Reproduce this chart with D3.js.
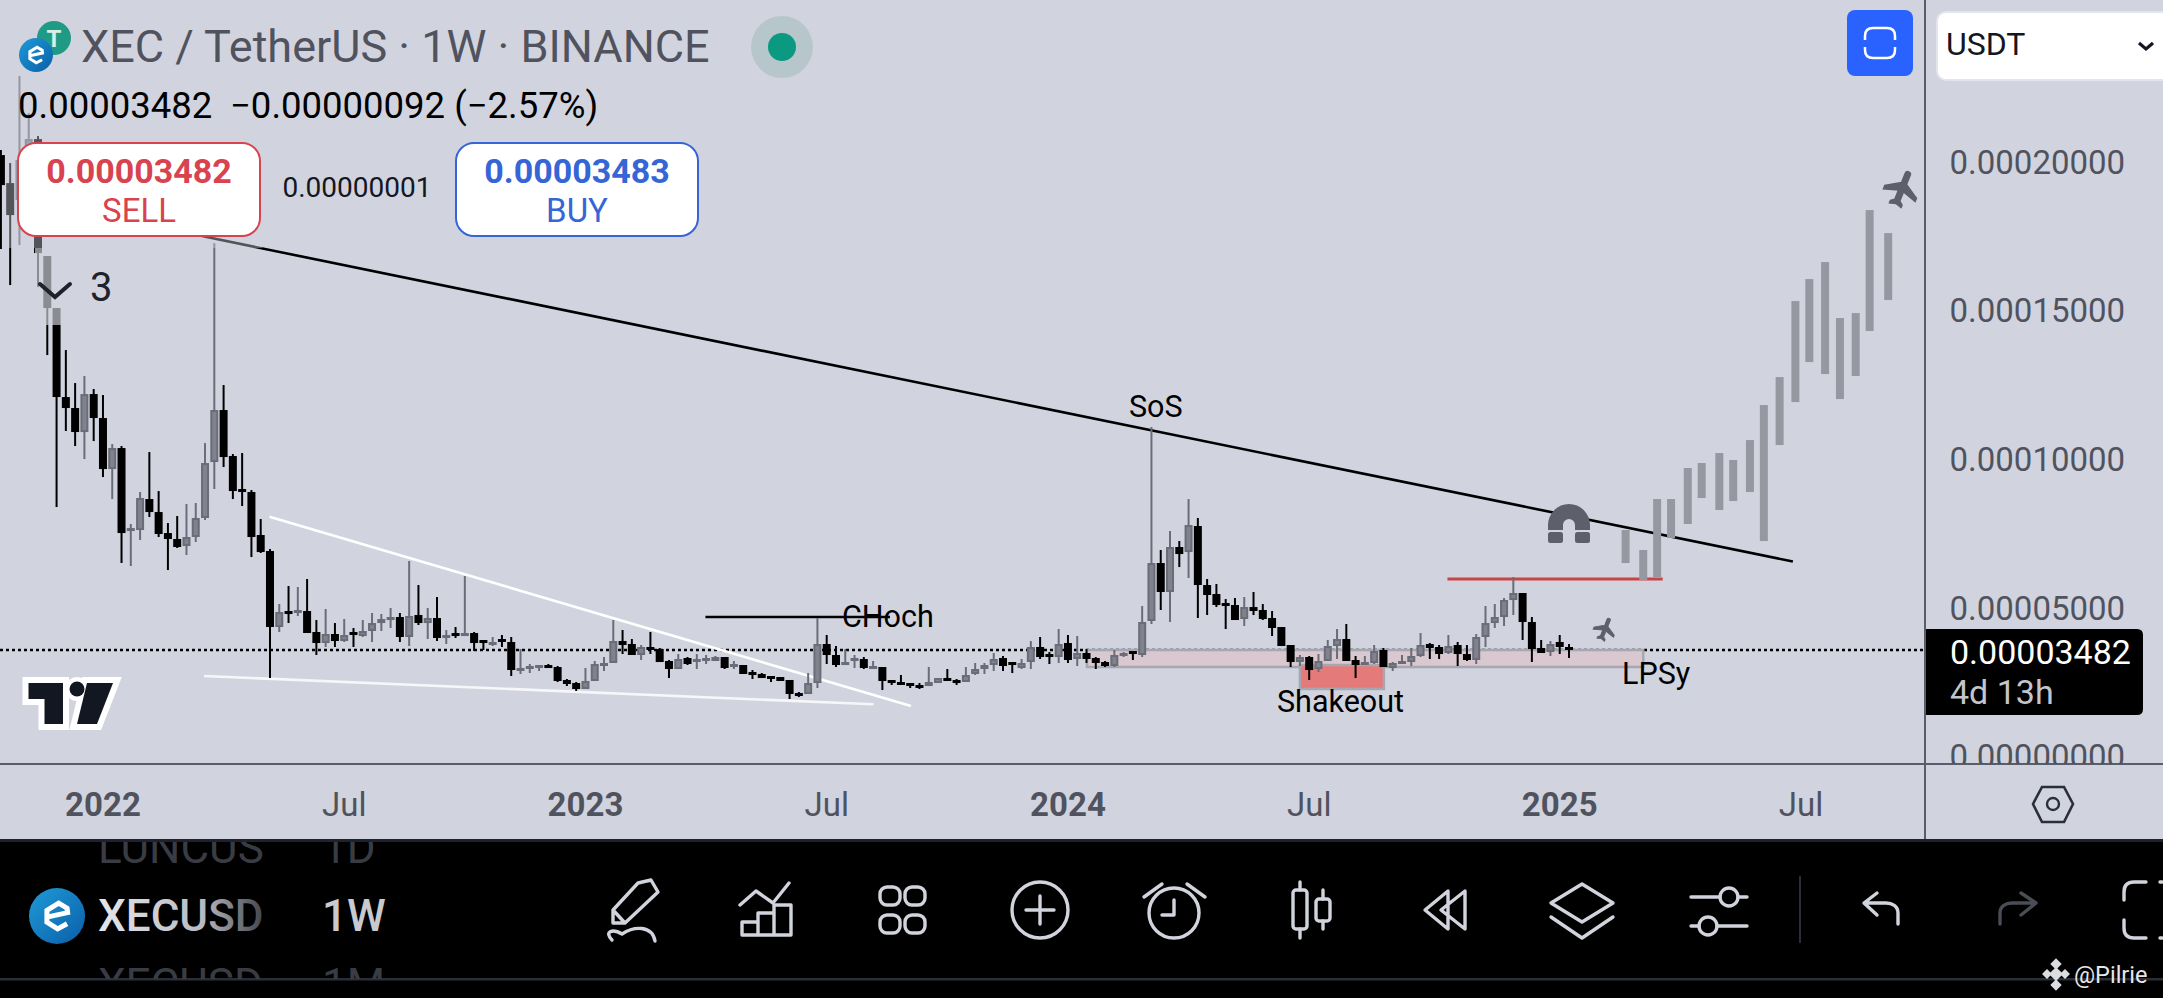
<!DOCTYPE html>
<html>
<head>
<meta charset="utf-8">
<title>XEC / TetherUS</title>
<script src="https://cdn.jsdelivr.net/npm/d3@7"></script>
<style>
    html, body { margin: 0; padding: 0; background: #000; }
    svg { display: block; font-family: Roboto, sans-serif; }
</style>
</head>
<body>
<div id="chart"></div>
<script>
// Weekly candles, prices in units of 0.00000001 USDT
const FIRST_WEEK = new Date(Date.UTC(2021, 9, 18));

const OPEN = [20206,19264,18693,19533,20744,16810,15062,12070,11700,10893,12170,11364,9649,10355,7598,7598,8640,8203,7497,7296,7060,7363,8002,9884,11633,10086,8977,8876,7430,6892,
    4337,4875,4841,4875,4169,3799,4102,3866,4169,4034,4203,4471,4606,4673,4001,4740,4471,4640,4001,4135,4068,4135,3900,3732,3934,3833,2891,2959,2992,3059,
    2992,2555,2454,2253,2522,3059,3127,3866,3765,3396,3665,3597,3194,2925,3295,3194,3228,3194,3328,3026,3059,2824,2757,2690,2656,2555,2118,2084,2454,3765,
    3396,3093,3228,3261,2959,2992,2555,2488,2454,2387,2353,2454,2622,2555,2488,2757,2925,3059,3295,3160,2959,3160,3665,3429,3328,3799,3261,3463,3295,3160,
    3026,3396,3530,3396,4539,6489,5514,7027,6858,7733,5749,5446,5144,5077,4606,5009,4909,4640,4337,3732,3160,3328,2925,3194,3698,3934,3228,3093,3127,3564,
    2959,3127,3160,3362,3765,3665,3463,3732,3429,3228,4001,4471,4673,5245,5480,4505,3631,3496,3833,3665];
const HIGH = [20374,19937,22862,21618,20844,16810,15062,13650,12540,12776,12339,12137,10489,10422,7800,8876,10220,8909,7833,8069,8472,8506,10523,17247,12473,10153,10187,8943,7968,6959,
    5110,5715,5682,5951,4572,4942,4471,4606,4303,4572,4808,4774,4976,4808,6556,5749,4976,5346,4236,4337,6052,4169,3900,4001,4068,4001,3597,3093,3059,3093,
    3026,2589,2488,2959,3194,3328,4572,4236,3934,3732,4169,3631,3228,3429,3328,3429,3396,3362,3328,3194,3059,2891,2790,2690,2656,2555,2152,2790,4640,4068,
    3698,3597,3396,3328,3194,2992,2555,2723,2454,2454,2992,2622,2925,2589,2992,3127,3127,3463,3362,3160,3261,3866,4001,3496,4270,4068,4034,3597,3328,3194,
    3564,3496,3530,5043,11061,6926,7565,7228,8640,8002,5951,5783,5278,5312,5346,5514,5110,4875,4337,3732,3396,3362,3429,3900,4270,4438,3362,3362,3732,3631,
    3160,3396,3631,4135,3799,3732,4068,3833,3732,4102,5043,5110,5312,6018,5480,4673,3900,3866,4068,3765];
const LOW = [17045,15835,17180,18693,15768,13482,8371,10927,10422,9985,10590,9380,8640,6489,6388,7262,8035,7363,6253,6993,6758,7195,7934,8977,9716,8640,8405,6690,6825,2622,
    4169,4471,4707,4135,3396,3665,3665,3833,3665,4001,3833,4203,4303,3833,3698,4404,3934,3866,3765,3967,4034,3530,3564,3698,3665,2690,2757,2790,2858,2959,
    2488,2353,2185,2253,2522,2858,3127,3429,3396,3228,3429,3160,2622,2925,3059,2925,3093,3194,2925,2925,2757,2589,2622,2488,2522,1916,1984,2084,2286,3093,
    2992,3093,2959,2925,2925,2219,2387,2387,2286,2253,2353,2454,2522,2387,2488,2723,2757,2858,2858,2790,2925,2925,3261,3093,3127,3127,3026,3127,2925,2992,
    2992,3328,3228,3328,4438,4909,4505,6354,5984,4640,4740,5009,4270,4572,4371,4740,4572,4034,3698,2992,3026,2555,2824,3194,3261,3194,2622,3059,3093,2992,
    2858,3127,3026,3328,3261,3261,3429,3026,3194,3093,3665,4303,4371,4740,3900,3160,3463,3362,3429,3295];
const CLOSE = [19197,18188,20038,20744,16911,15062,12070,11700,10893,12170,11364,9649,10355,7497,7665,8674,8203,7464,7296,7027,7363,8002,9851,11633,10052,8909,8909,7363,6858,4337,
    4841,4808,4909,4135,3799,4102,3866,4068,4102,4203,4471,4606,4673,4001,4707,4471,4640,3967,4068,4068,4135,3799,3833,3833,3866,2891,2959,3026,3059,2992,
    2522,2421,2253,2522,3093,3127,3866,3732,3396,3665,3597,3160,2925,3261,3093,3261,3295,3328,2959,3093,2757,2757,2622,2622,2522,2084,2051,2454,3765,3396,
    3059,3160,3295,2959,3026,2522,2488,2421,2387,2320,2488,2622,2522,2488,2723,2925,3059,3261,3026,3093,3127,3665,3328,3362,3765,3228,3463,3261,3127,3026,
    3396,3463,3463,4505,6489,5514,7027,6791,7766,5749,5413,5077,5077,4572,5009,4875,4606,4303,3698,3160,3328,2891,3194,3698,3934,3194,3059,3160,3530,2992,
    3127,3194,3362,3732,3631,3429,3698,3429,3228,4001,4471,4673,5245,5480,4505,3597,3463,3765,3665,3564];

// Projected bars pattern: offset in weeks from FIRST_WEEK, low and high
const FORECAST_WEEK = [175.1,177.0,178.5,180.0,181.8,183.3,185.2,186.7,188.5,190.0,191.7,193.4,194.9,196.6,198.2,199.9,201.4,203.4];
const FORECAST_LOW = [6489,5917,6018,7329,7800,8674,8271,8573,8876,7228,10456,11901,13246,12843,12002,12776,14289,15331];
const FORECAST_HIGH = [7598,6926,8640,8640,9683,9851,10187,9952,10624,11801,12742,15297,16037,16608,14726,14894,18357,17583];

const PRICE_TICKS = [0, 5000, 10000, 15000, 20000];
const LAST_LEVEL = 3564; // where the dotted line sits against the candles
const TIME_TICKS = [[2022, 0, 3, "2022"], [2022, 6, 4, "Jul"], [2023, 0, 2, "2023"], [2023, 6, 3, "Jul"],
    [2024, 0, 1, "2024"], [2024, 6, 1, "Jul"], [2025, 0, 6, "2025"], [2025, 6, 7, "Jul"]];

// Drawings: [week, price] end points
const TREND_LINE = [[21.67, 17482], [193.13, 6539]];
const WEDGE_TOP = [[28.95, 8045], [98.08, 1681]];
const WEDGE_BOTTOM = [[21.89, 2690], [94.04, 1738]];
const CHOCH_LINE = [[75.93, 4673], [95.82, 4673]];
const RESIST_LINE = [[155.9, 5951], [179.1, 5951]];
const SUPPORT_BOX = [[117.05, 3564], [177.0, 2992]];
const SHAKEOUT_BOX = [[140.0, 3059], [149.05, 2253]];

const WIDTH = 2163, HEIGHT = 998;
const PANE_RIGHT = 1925, PANE_BOTTOM = 764;
const BG = "#d1d4de", UP = "#6a6d78", UP_FILL = "#80828d", DOWN = "#000000", TEXT = "#50535e";
const WEEK_MS = 7 * 24 * 3600 * 1000;

const svg = d3.select("#chart").append("svg")
    .attr("width", WIDTH)
    .attr("height", HEIGHT)
    .attr("viewBox", "0 0 " + WIDTH + " " + HEIGHT);

const defs = svg.append("defs");
defs.append("clipPath").attr("id", "pane-clip").append("rect")
    .attr("width", WIDTH).attr("height", PANE_BOTTOM);
defs.append("clipPath").attr("id", "row-clip").append("rect")
    .attr("x", 0).attr("y", 842).attr("width", 420).attr("height", 137);

const fade = defs.append("linearGradient").attr("id", "sym-fade")
    .attr("gradientUnits", "userSpaceOnUse").attr("x1", 98).attr("x2", 272).attr("y1", 0).attr("y2", 0);
fade.append("stop").attr("offset", 0).attr("stop-color", "#e6e7ec");
fade.append("stop").attr("offset", 0.6).attr("stop-color", "#b9bbc2");
fade.append("stop").attr("offset", 1).attr("stop-color", "#33353b");

const blue = defs.append("linearGradient").attr("id", "ecash-blue")
    .attr("x1", 0).attr("x2", 1).attr("y1", 0).attr("y2", 1);
blue.append("stop").attr("offset", 0).attr("stop-color", "#1f9ad6");
blue.append("stop").attr("offset", 1).attr("stop-color", "#0a5fa8");

svg.append("rect").attr("width", WIDTH).attr("height", 842).attr("fill", BG);

const x = d3.scaleUtc()
    .domain([FIRST_WEEK, new Date(FIRST_WEEK.getTime() + 169 * WEEK_MS)])
    .range([0.9, 1569]);
const y = d3.scaleLinear().domain([0, 20000]).range([756, 161.2]);
const xw = w => x(new Date(FIRST_WEEK.getTime() + w * WEEK_MS));

const pane = svg.append("g");

// last price line
pane.append("line")
    .attr("x1", 0).attr("x2", PANE_RIGHT)
    .attr("y1", y(LAST_LEVEL)).attr("y2", y(LAST_LEVEL))
    .attr("stroke", "#000").attr("stroke-width", 2.4).attr("stroke-dasharray", "3 3");

function drawBox(b, fill) {
    pane.append("rect")
        .attr("x", xw(b[0][0])).attr("y", y(b[0][1]))
        .attr("width", xw(b[1][0]) - xw(b[0][0]))
        .attr("height", y(b[1][1]) - y(b[0][1]))
        .attr("fill", fill).attr("stroke", "#a6a7b0").attr("stroke-width", 2.5);
}
function drawSegment(s, color, width) {
    pane.append("line")
        .attr("x1", xw(s[0][0])).attr("y1", y(s[0][1]))
        .attr("x2", xw(s[1][0])).attr("y2", y(s[1][1]))
        .attr("stroke", color).attr("stroke-width", width);
}

drawBox(SUPPORT_BOX, "#d9c8cf");
drawBox(SHAKEOUT_BOX, "#e57a7a");
drawSegment(WEDGE_TOP, "#ffffff", 2.6);
drawSegment(WEDGE_BOTTOM, "#f7f7fa", 2.6);
drawSegment(TREND_LINE, "#000", 2.6);
drawSegment(CHOCH_LINE, "#000", 2.6);
drawSegment(RESIST_LINE, "#eec9cb", 5);
drawSegment(RESIST_LINE, "#bb4a50", 2.8);

// candles
const candles = pane.append("g").selectAll("g")
    .data(OPEN.map((o, i) => ({ i: i, o: o, h: HIGH[i], l: LOW[i], c: CLOSE[i] })))
    .enter().append("g");

candles.append("line")
    .attr("x1", d => xw(d.i)).attr("x2", d => xw(d.i))
    .attr("y1", d => y(d.h)).attr("y2", d => y(d.l))
    .attr("stroke", d => d.c >= d.o ? UP : DOWN)
    .attr("stroke-width", 2);

candles.append("rect")
    .attr("x", d => xw(d.i) - (d.c >= d.o ? 3 : 4))
    .attr("width", d => d.c >= d.o ? 6 : 8)
    .attr("y", d => y(Math.max(d.o, d.c)) + (d.c >= d.o ? 1 : 0))
    .attr("height", d => Math.max(Math.abs(y(d.o) - y(d.c)) - (d.c >= d.o ? 2 : 0), d.c >= d.o ? 1 : 3))
    .attr("fill", d => d.c >= d.o ? UP_FILL : DOWN)
    .attr("stroke", d => d.c >= d.o ? UP : "none")
    .attr("stroke-width", 2);

// projected bars
pane.append("g").selectAll("rect")
    .data(FORECAST_WEEK)
    .enter().append("rect")
    .attr("x", d => xw(d) - 4)
    .attr("width", 8)
    .attr("y", (d, i) => y(FORECAST_HIGH[i]))
    .attr("height", (d, i) => y(FORECAST_LOW[i]) - y(FORECAST_HIGH[i]))
    .attr("fill", "#9598a1");

// labels on the chart
function note(text, px, py) {
    pane.append("text").attr("x", px).attr("y", py).attr("font-size", 30.5).attr("fill", "#000").text(text);
}
note("SoS", 1129, 417);
note("CHoch", 842, 627);
note("Shakeout", 1277, 712);
note("LPSy", 1622, 684);

// magnet
pane.append("path")
    .attr("d", "M1548,530 V525 A21,21 0 0 1 1590,525 V530 H1575 V525 A6,6 0 0 0 1563,525 V530 Z")
    .attr("fill", "#5d606b");
pane.append("rect").attr("x", 1548).attr("y", 532).attr("width", 15).attr("height", 11).attr("rx", 2.5).attr("fill", "#5d606b");
pane.append("rect").attr("x", 1575).attr("y", 532).attr("width", 15).attr("height", 11).attr("rx", 2.5).attr("fill", "#5d606b");

// planes
const PLANE = "M21 16v-2l-8-5V3.5c0-.83-.67-1.5-1.5-1.5S10 2.67 10 3.5V9l-8 5v2l8-2.5V19l-2 1.5V22l3.5-1 3.5 1v-1.5L13 19v-5.5l8 2.5z";
pane.append("path").attr("d", PLANE).attr("fill", "#5d606b").attr("stroke", "#5d606b").attr("stroke-width", 0.8)
    .attr("transform", "translate(1902,188.5) rotate(22) scale(1.8) translate(-11.5,-12)");
pane.append("path").attr("d", PLANE).attr("fill", "#5d606b").attr("stroke", "#5d606b").attr("stroke-width", 0.8)
    .attr("transform", "translate(1605,629) rotate(22) scale(1.15) translate(-11.5,-12)");

// tradingview mark
const tvShapes = ["M28.5,683 H63 V724 H44.5 V699 H28.5 Z", "M87,683 H113 L97,724 H77 Z"];
tvShapes.forEach(d => pane.append("path").attr("d", d).attr("fill", "#fff").attr("stroke", "#fff").attr("stroke-width", 12));
pane.append("circle").attr("cx", 77).attr("cy", 689).attr("r", 12).attr("fill", "#fff");
tvShapes.forEach(d => pane.append("path").attr("d", d).attr("fill", "#131722"));
pane.append("circle").attr("cx", 77).attr("cy", 689).attr("r", 7.5).attr("fill", "#131722");

// legend veil over the candles
svg.append("rect").attr("x", 5).attr("y", 0).attr("width", 257).attr("height", 248).attr("fill", BG).attr("opacity", 0.4);
svg.append("rect").attr("x", 35).attr("y", 248).attr("width", 80).attr("height", 77).attr("fill", BG).attr("opacity", 0.66);

// legend
function label(parent, text, px, py, size, color, extra) {
    const t = parent.append("text").attr("x", px).attr("y", py).attr("font-size", size).attr("fill", color).text(text);
    if (extra) extra(t);
    return t;
}
const middle = t => t.attr("text-anchor", "middle");
const bold = t => t.attr("text-anchor", "middle").attr("font-weight", 700);

svg.append("circle").attr("cx", 54).attr("cy", 38).attr("r", 17).attr("fill", "#1f9b85");
label(svg, "T", 54, 47, 24, "#d7efe9", bold);

function ecash(parent, cx, cy, r) {
    parent.append("circle").attr("cx", cx).attr("cy", cy).attr("r", r).attr("fill", "url(#ecash-blue)");
    parent.append("path")
        .attr("d", "M-.36,.04 L.38,-.12 L.36,-.28 L.06,-.46 L-.36,-.2 L-.36,.22 L.02,.46 L.36,.28")
        .attr("transform", "translate(" + cx + "," + cy + ") scale(" + r + ")")
        .attr("fill", "none").attr("stroke", "#fff").attr("stroke-width", 0.18);
}
ecash(svg, 36, 55, 17);

label(svg, "XEC / TetherUS · 1W · BINANCE", 81, 62, 45, TEXT);
svg.append("circle").attr("cx", 782).attr("cy", 47).attr("r", 31).attr("fill", "#b7c6cb");
svg.append("circle").attr("cx", 782).attr("cy", 47).attr("r", 14).attr("fill", "#0b9981");

label(svg, "0.00003482", 18, 118, 36.5, "#000");
label(svg, "−0.00000092 (−2.57%)", 230, 118, 36.5, "#000");

function priceBox(left, right, color, price, side) {
    svg.append("rect")
        .attr("x", left).attr("y", 143).attr("width", right - left).attr("height", 93)
        .attr("rx", 18).attr("fill", "#fff").attr("stroke", color).attr("stroke-width", 2);
    label(svg, price, (left + right) / 2, 183, 34, color, bold);
    label(svg, side, (left + right) / 2, 222, 33, color, middle);
}
priceBox(18, 260, "#d8434f", "0.00003482", "SELL");
priceBox(456, 698, "#3565d6", "0.00003483", "BUY");
label(svg, "0.00000001", 357, 197, 28, "#131722", middle);

svg.append("path").attr("d", "M40,284 L55,297 L70,284")
    .attr("fill", "none").attr("stroke", "#1e222d").attr("stroke-width", 4).attr("stroke-linecap", "round");
label(svg, "3", 90, 301, 40, "#1e222d");

// corner controls
svg.append("rect").attr("x", 1847).attr("y", 10).attr("width", 66).attr("height", 66).attr("rx", 8).attr("fill", "#2962ff");
svg.append("path")
    .attr("d", "M1865,40 V36 Q1865,28 1873,28 H1887 Q1895,28 1895,36 V40 M1865,47 V50 Q1865,58 1873,58 H1887 Q1895,58 1895,50 V47")
    .attr("fill", "none").attr("stroke", "#fff").attr("stroke-width", 2.5);
svg.append("rect").attr("x", 1937).attr("y", 12).attr("width", 240).attr("height", 68).attr("rx", 9)
    .attr("fill", "#fff").attr("stroke", "#e3e5ec").attr("stroke-width", 2);
label(svg, "USDT", 1946, 55, 32, "#131722");
svg.append("path").attr("d", "M2139,43 L2146,49 L2153,43").attr("fill", "none").attr("stroke", "#131722").attr("stroke-width", 3.2);

// axes
svg.append("line").attr("x1", PANE_RIGHT).attr("x2", PANE_RIGHT).attr("y1", 0).attr("y2", 840)
    .attr("stroke", "#5a5d69").attr("stroke-width", 2);
svg.append("line").attr("x1", 0).attr("x2", WIDTH).attr("y1", PANE_BOTTOM).attr("y2", PANE_BOTTOM)
    .attr("stroke", "#5a5d69").attr("stroke-width", 2);

const priceAxis = d3.axisRight(y)
    .tickValues(PRICE_TICKS)
    .tickSize(0)
    .tickPadding(24.5)
    .tickFormat(d => (d * 1e-8).toFixed(8));
svg.append("g")
    .attr("clip-path", "url(#pane-clip)")
    .append("g")
    .attr("transform", "translate(" + PANE_RIGHT + ",1.4)")
    .call(priceAxis)
    .call(g => g.select(".domain").remove())
    .selectAll("text")
    .attr("font-family", "Roboto, sans-serif").attr("font-size", 33).attr("fill", TEXT);

const timeDates = TIME_TICKS.map(t => new Date(Date.UTC(t[0], t[1], t[2])));
const timeAxis = d3.axisBottom(x)
    .tickValues(timeDates)
    .tickSize(0)
    .tickPadding(28.6)
    .tickFormat((d, i) => TIME_TICKS[i][3]);
svg.append("g")
    .attr("transform", "translate(-0.5," + PANE_BOTTOM + ")")
    .call(timeAxis)
    .call(g => g.select(".domain").remove())
    .selectAll("text")
    .attr("font-family", "Roboto, sans-serif").attr("font-size", 33).attr("fill", TEXT)
    .attr("font-weight", (d, i) => TIME_TICKS[i][3] === "Jul" ? 400 : 700);

// last price badge
svg.append("path").attr("d", "M1926,629 H2137 Q2143,629 2143,635 V709 Q2143,715 2137,715 H1926 Z").attr("fill", "#000");
label(svg, "0.00003482", 1950, 664, 34, "#fff");
label(svg, "4d 13h", 1950, 704, 34, "#c3c5cb");

// settings icon
svg.append("path").attr("d", "M2033,804 L2042,787 H2064 L2073,804 L2064,822 H2042 Z")
    .attr("fill", "none").attr("stroke", "#2a2e39").attr("stroke-width", 2.6);
svg.append("circle").attr("cx", 2053).attr("cy", 804).attr("r", 6)
    .attr("fill", "none").attr("stroke", "#2a2e39").attr("stroke-width", 2.4);

// bottom toolbar
svg.append("rect").attr("y", 840).attr("width", WIDTH).attr("height", 158).attr("fill", "#000");
svg.append("rect").attr("y", 839).attr("width", WIDTH).attr("height", 3).attr("fill", "#1e222d");
svg.append("rect").attr("y", 978).attr("width", WIDTH).attr("height", 2.5).attr("fill", "#2a2e39");

const rows = svg.append("g").attr("clip-path", "url(#row-clip)");
label(rows, "LUNCUS", 98, 863, 44, "#3a3c44");
label(rows, "1D", 322, 863, 44, "#3a3c44");
label(rows, "XECUSD", 98, 1000, 44, "#3a3c44");
label(rows, "1M", 322, 1000, 44, "#3a3c44");

label(svg, "XECUSD", 98, 931, 44, "url(#sym-fade)").attr("font-weight", 500);
label(svg, "1W", 322, 931, 44, "#c8cad0").attr("font-weight", 500);
ecash(svg, 57, 916, 28);

const tools = svg.append("g").attr("fill", "none").attr("stroke", "#d1d4dc").attr("stroke-width", 3.4)
    .attr("stroke-linejoin", "round").attr("stroke-linecap", "round");
const ICONS = [
    // pencil
    "M638,883 L651,880 L658,892 L625,923 L613,923 L613,910 Z M613,910 L625,923",
    "M612,940 C604,932 612,928 622,934 C634,926 652,925 655,941",
    // chart
    "M740,905 L756,891 L773,903 L789,883",
    "M742,935 V922 H758 V935 Z M758,935 V913 H774 V935 M774,935 V905 H791 V935 H758",
    // alarm hands and ears
    "M1174,900 V915 H1162 M1144,897 L1162,884 M1205,897 L1187,884",
    // candles icon wicks and bodies
    "M1300,882 V890 M1300,929 V938 M1323,890 V899 M1323,921 V929",
    // rewind
    "M1448,891 L1425,910 L1448,929 Z M1465,891 L1441,910 L1465,929 Z",
    // layers
    "M1582,884 L1613,903 L1582,922 L1551,903 Z M1551,917 L1582,938 L1613,917",
    // sliders
    "M1691,897 H1720 M1738,897 H1747 M1691,926 H1699 M1717,926 H1747",
    // undo
    "M1898,924 V913 C1898,906 1892,903 1886,903 H1866 M1877,893 L1864,903 L1877,915",
    // frame
    "M2146,882 H2134 Q2124,882 2124,892 V900 M2124,920 V928 Q2124,938 2134,938 H2146 M2162,882 H2160 M2162,938 H2160"
];
ICONS.forEach(d => tools.append("path").attr("d", d));
[[880, 887], [905, 887], [880, 915], [905, 915]].forEach(p => {
    tools.append("rect").attr("x", p[0]).attr("y", p[1]).attr("width", 20).attr("height", 18).attr("rx", 7);
});
tools.append("circle").attr("cx", 1040).attr("cy", 910).attr("r", 28);
tools.append("path").attr("d", "M1026,910 H1054 M1040,896 V924");
tools.append("circle").attr("cx", 1174).attr("cy", 913).attr("r", 25);
tools.append("rect").attr("x", 1293).attr("y", 890).attr("width", 14).attr("height", 39).attr("rx", 3);
tools.append("rect").attr("x", 1316).attr("y", 899).attr("width", 14).attr("height", 22).attr("rx", 3);
tools.append("circle").attr("cx", 1729).attr("cy", 897).attr("r", 9);
tools.append("circle").attr("cx", 1708).attr("cy", 926).attr("r", 9);

svg.append("path").attr("d", "M2000,924 V913 C2000,906 2006,903 2012,903 H2034 M2021,893 L2036,903 L2021,915")
    .attr("fill", "none").attr("stroke", "#4a4d55").attr("stroke-width", 3.4).attr("stroke-linecap", "round").attr("stroke-linejoin", "round");
svg.append("line").attr("x1", 1800).attr("x2", 1800).attr("y1", 876).attr("y2", 943)
    .attr("stroke", "#2a2e39").attr("stroke-width", 2);

// watermark
[[2056, 964, 4], [2047, 974, 3.5], [2065, 974, 3.5], [2056, 974, 5], [2056, 985, 4]].forEach(p => {
    svg.append("rect").attr("x", p[0] - p[2]).attr("y", p[1] - p[2])
        .attr("width", p[2] * 2).attr("height", p[2] * 2)
        .attr("fill", "#dcdde0")
        .attr("transform", "rotate(45 " + p[0] + " " + p[1] + ")");
});
label(svg, "@Pilrie", 2074, 983, 23.5, "#e6e7ea");
</script>
</body>
</html>
